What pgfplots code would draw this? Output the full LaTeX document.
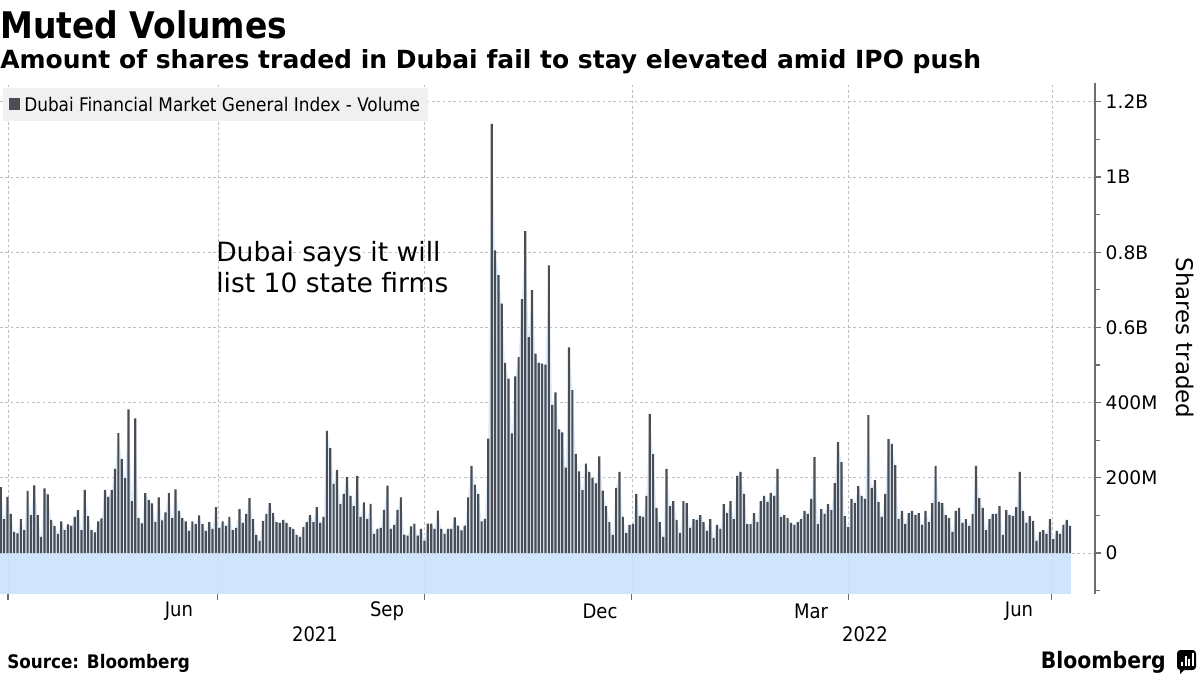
\documentclass[border=0pt]{standalone}
\usepackage{fontspec}
\setmainfont{DejaVu Sans}
\newfontfamily\condfont{DejaVu Sans Condensed}
\usepackage{pgfplots}
\usepackage{pgfplotstable}
\pgfplotsset{compat=1.18}
\definecolor{barcol}{RGB}{74,78,84}
\definecolor{bandblue}{RGB}{200,225,250}
\definecolor{areablue}{RGB}{222,236,251}
\definecolor{gridcol}{RGB}{190,190,190}
\definecolor{axiscol}{RGB}{110,110,110}
\definecolor{legbg}{RGB}{240,240,240}

% daily volume, millions of shares
\pgfplotstableread{
v
175
90
149
104
56
52
90
61
165
101
180
101
43
172
156
88
72
51
84
61
76
72
96
114
61
168
98
61
55
84
92
168
149
168
224
319
250
199
382
138
358
93
79
159
141
132
82
148
87
108
159
93
169
112
93
84
59
84
77
100
77
59
82
64
122
67
84
72
96
61
67
117
80
104
146
90
48
32
85
104
133
106
82
80
88
80
69
64
48
43
69
82
101
82
122
80
96
325
279
184
221
130
157
202
152
125
205
96
135
90
131
51
64
67
115
179
64
75
115
148
49
46
71
78
46
64
33
78
78
64
113
64
51
64
64
95
73
60
73
148
232
182
157
84
91
304
1141
805
739
663
506
464
318
470
521
675
856
574
699
530
506
504
501
765
393
427
329
321
227
547
433
264
217
167
238
216
199
185
257
166
125
82
48
173
216
96
53
75
77
157
98
96
152
370
263
120
82
43
224
125
138
88
53
138
133
67
90
88
101
82
59
90
40
75
64
130
106
138
90
205
216
157
77
77
106
82
138
152
136
160
152
224
96
101
93
80
75
82
90
112
104
144
255
77
117
104
130
114
186
295
242
98
69
144
133
178
152
144
367
173
194
136
96
157
303
290
234
90
112
77
106
112
101
106
75
112
82
133
232
136
133
101
93
56
112
120
80
90
72
104
232
146
120
61
90
104
104
125
48
114
101
98
122
216
112
80
98
85
32
56
61
51
90
37
59
51
75
88
72
}\vol

\begin{document}
\begin{tikzpicture}
\path[use as bounding box] (0,0) rectangle (900pt,-506.25pt);
\begin{axis}[
  at={(0pt,-62.25pt)}, anchor=north west,
  scale only axis, width=821.25pt, height=383.25pt,
  xmin=-0.208, xmax=325.4, ymin=-109, ymax=1250,
  axis y line*=right, axis x line*=bottom,
  x axis line style={draw=none},
  y axis line style={draw=axiscol, line width=1.1pt},
  ytick={0,200,...,1200},
  yticklabels={0,200M,400M,0.6B,0.8B,1B,1.2B},
  minor ytick={-100,100,300,...,1100},
  xtick={2.17,64.6,125.9,187.7,252.0,312.6},
  xticklabels={},
  xmajorgrids, ymajorgrids,
  major grid style={draw=gridcol, dash pattern=on 2pt off 2pt, line width=0.6pt},
  tick align=outside,
  tick style={draw=axiscol, line width=0.8pt},
  major tick length=4.5pt, minor tick length=3.5pt,
  yticklabel style={font=\fontsize{14}{14}\selectfont, text=black},
]
\addplot[draw=none, fill=areablue] table[x expr=\coordindex, y=v] {\vol} \closedcycle;
\addplot[draw=none, fill=bandblue, fill opacity=0.85] coordinates {(-0.33,-109) (318.33,-109) (318.33,0) (-0.33,0)} -- cycle;
\addplot[ybar, bar width=0.65, bar shift=0pt, fill=barcol, draw=none] table[x expr=\coordindex, y=v] {\vol};
\end{axis}
\begin{scope}[x=0.75pt,y=-0.75pt]
\node[anchor=base west, inner sep=0, font=\condfont\bfseries\fontsize{27.5}{27.5}\selectfont] at (0,38) {Muted Volumes};
\node[anchor=base west, inner sep=0, font=\bfseries\fontsize{18.75}{18.75}\selectfont] at (0,68) {Amount of shares traded in Dubai fail to stay elevated amid IPO push};
\fill[legbg] (3,88) rectangle (428,121);
\fill[barcol] (9,98) rectangle (20,110);
\node[anchor=west, inner sep=0, font=\condfont\fontsize{14.1}{14.1}\selectfont] at (24,104) {Dubai Financial Market General Index - Volume};
\node[anchor=base west, inner sep=0, font=\fontsize{19.9}{19.9}\selectfont] at (216,261) {Dubai says it will};
\node[anchor=base west, inner sep=0, font=\fontsize{19.9}{19.9}\selectfont] at (216,292) {list 10 state firms};
\node[rotate=-90, inner sep=0, font=\fontsize{17.2}{17.2}\selectfont] at (1185,338) {Shares traded};
\foreach \xx/\lab in {179/Jun,387/Sep,600/Dec,811/Mar,1019/Jun}
  \node[inner sep=0, font=\condfont\fontsize{15}{15}\selectfont] at (\xx,611) {\lab};
\node[inner sep=0, font=\condfont\fontsize{15}{15}\selectfont] at (315,634) {2021};
\node[inner sep=0, font=\condfont\fontsize{15}{15}\selectfont] at (865,634) {2022};
\node[anchor=base west, inner sep=0, font=\condfont\bfseries\fontsize{14}{14}\selectfont] at (7,668) {Source: Bloomberg};
\node[anchor=base east, inner sep=0, font=\condfont\bfseries\fontsize{17}{17}\selectfont] at (1166,668) {Bloomberg};
\fill[black, rounded corners=2.5pt] (1177,650) rectangle (1196,670);
\fill[black] (1180,668) -- (1180,674) -- (1186,668) -- cycle;
\foreach \bx/\bt in {1181/662,1184.5/656,1188/659,1191.5/653}
  \fill[white] (\bx,666) rectangle ++(2,{\bt-666});
\end{scope}
\end{tikzpicture}
\end{document}
